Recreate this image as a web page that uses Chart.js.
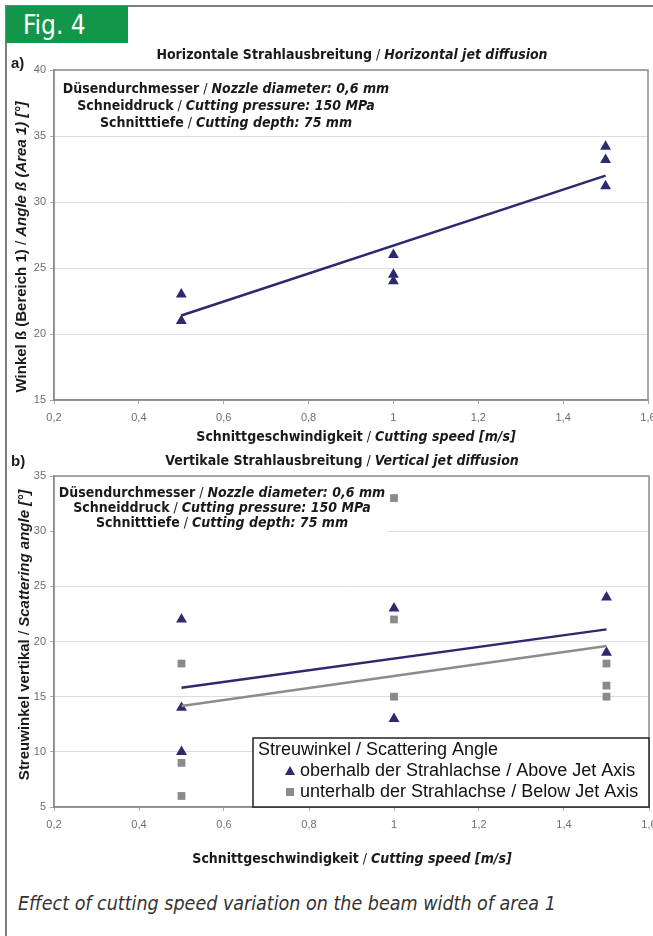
<!DOCTYPE html>
<html>
<head>
<meta charset="utf-8">
<script src="https://cdn.jsdelivr.net/npm/chart.js@4.4.1/dist/chart.umd.min.js"></script>
<style>
  body { margin: 0; background: #fff; overflow: hidden; width: 653px; height: 936px; position: relative; }
  #frame { position: absolute; left: 5px; top: 5px; width: 700px; height: 960px; border-left: 2px solid #7d7d7d; border-top: 2px solid #7d7d7d; }
  #fig { position: absolute; left: 6px; top: 6px; width: 105px; height: 37px; padding-left: 17px; background: #12974a; color: #fff;
         font: 26px "Liberation Sans Narrow", "DejaVu Sans Condensed", sans-serif; line-height: 38px; }
  canvas { position: absolute; left: 0; }
  #caption { position: absolute; left: 18px; top: 892px; color: #333; font: italic 19.5px "Liberation Sans Narrow", "DejaVu Sans Condensed", sans-serif; }
</style>
</head>
<body>
<div id="frame"></div>
<div id="fig">Fig. 4</div>
<canvas id="chartA" width="690" height="445" style="top:0"></canvas>
<canvas id="chartB" width="690" height="440" style="top:445px"></canvas>
<div id="caption">Effect of cutting speed variation on the beam width of area 1</div>
<script>
// ---- data ----
// a) horizontal jet diffusion
var speedA = [0.5, 0.5, 1, 1, 1, 1.5, 1.5, 1.5];
var angleA = [23, 21, 26, 24.5, 24, 34.2, 33.2, 31.2];
var trendSpeedA = [0.5, 1.5];
var trendAngleA = [21.4, 32.0];

// b) vertical jet diffusion
var speedAbove = [0.5, 0.5, 0.5, 1, 1, 1.5, 1.5];
var angleAbove = [22, 14, 10, 23, 13, 24, 19];
var speedBelow = [0.5, 0.5, 0.5, 1, 1, 1, 1.5, 1.5, 1.5];
var angleBelow = [18, 9, 6, 33, 22, 15, 18, 16, 15];
var trendSpeedB = [0.5, 1.5];
var trendAbove = [15.8, 21.1];
var trendBelow = [14.15, 19.6];

var xTicks = [0.2, 0.4, 0.6, 0.8, 1, 1.2, 1.4, 1.6];

var NAVY = '#2b2a6e';
var GREY = '#8a8a8a';
var NARROW = '"Liberation Sans Narrow", "DejaVu Sans Condensed", sans-serif';
var SANS = '"Liberation Sans", Arial, sans-serif';

var noteLines = [
  [['Düsendurchmesser', 'b'], [' / ', 'r'], ['Nozzle diameter: 0,6 mm', 'bi']],
  [['Schneiddruck', 'b'], [' / ', 'r'], ['Cutting pressure: 150 MPa', 'bi']],
  [['Schnitttiefe', 'b'], [' / ', 'r'], ['Cutting depth: 75 mm', 'bi']]
];
var xTitle = [['Schnittgeschwindigkeit', 'b'], [' / ', 'r'], ['Cutting speed [m/s]', 'bi']];

function pts(xs, ys) {
  return xs.map(function (x, i) { return {x: x, y: ys[i]}; });
}

function fontFor(style, size, fam) {
  if (style === 'b') return 'bold ' + size + 'px ' + fam;
  if (style === 'bi') return 'italic bold ' + size + 'px ' + fam;
  return size + 'px ' + fam;
}

// draws a line of mixed bold / italic pieces centred on cx
function drawParts(ctx, parts, cx, cy, size, fam) {
  var total = 0;
  parts.forEach(function (p) { ctx.font = fontFor(p[1], size, fam); total += ctx.measureText(p[0]).width; });
  var x = cx - total / 2;
  ctx.textAlign = 'left';
  ctx.textBaseline = 'middle';
  parts.forEach(function (p) {
    ctx.font = fontFor(p[1], size, fam);
    ctx.fillText(p[0], x, cy);
    x += ctx.measureText(p[0]).width;
  });
}

function makeDecor(spec) {
  return {
    id: 'decor' + spec.tag,
    beforeDatasetsDraw: function (chart) {
      var ctx = chart.ctx, a = chart.chartArea;
      ctx.save();
      ctx.fillStyle = '#fff';
      ctx.fillRect(a.left + 1, a.top + 1, spec.noteW, spec.noteH);
      ctx.fillStyle = '#1a1a1a';
      noteLines.forEach(function (parts, i) {
        drawParts(ctx, parts, spec.noteX, a.top + spec.noteY + i * spec.noteDy, 14, NARROW);
      });
      ctx.restore();
    },
    afterDraw: function (chart) {
      var ctx = chart.ctx, a = chart.chartArea;
      ctx.save();
      // plot frame
      ctx.strokeStyle = '#8c8c8c';
      ctx.lineWidth = 1.5;
      ctx.strokeRect(a.left, a.top, a.right - a.left, a.bottom - a.top);
      ctx.fillStyle = '#1a1a1a';
      drawParts(ctx, spec.title, spec.titleX, spec.titleY, 14, NARROW);
      drawParts(ctx, xTitle, spec.xTitleX, a.bottom + spec.xTitleDy, 14, NARROW);
      ctx.font = 'bold 15px ' + SANS;
      ctx.textAlign = 'left';
      ctx.fillText(spec.tag + ')', 11, spec.tagY);
      ctx.translate(spec.yTitleX, spec.yTitleY);
      ctx.rotate(-Math.PI / 2);
      drawParts(ctx, spec.yTitle, 0, 0, 15, SANS);
      ctx.restore();
      if (spec.after) spec.after(chart);
    }
  };
}

function scaleOpts(min, max) {
  var tickFont = {family: SANS, size: 11};
  return {
    x: {
      type: 'linear', min: 0.2, max: 1.6,
      afterBuildTicks: function (s) { s.ticks = xTicks.map(function (v) { return {value: v}; }); },
      afterFit: function (s) { s.height = 26; },
      grid: {drawOnChartArea: false, tickLength: 4, tickColor: '#aaa'},
      border: {color: '#8c8c8c', width: 1.5},
      ticks: {
        autoSkip: false, maxRotation: 0, padding: 7, color: '#6e6e6e', font: tickFont,
        callback: function (v) { return String(Number(v.toFixed(1))).replace('.', ','); }
      }
    },
    y: {
      min: min, max: max,
      afterFit: function (s) { s.width = 30; },
      grid: {color: '#dcdcdc', lineWidth: 1, tickLength: 4, tickColor: '#aaa'},
      border: {color: '#8c8c8c', width: 1.5},
      ticks: {stepSize: 5, padding: 4, color: '#6e6e6e', font: tickFont}
    }
  };
}

function triangle(color) {
  return {pointStyle: 'triangle', pointRadius: 6.3, pointHoverRadius: 6.3, backgroundColor: color, borderColor: color, borderWidth: 0, showLine: false};
}

// ---- chart a ----
new Chart(document.getElementById('chartA'), {
  type: 'scatter',
  data: {
    datasets: [
      Object.assign({label: 'Angle', data: pts(speedA, angleA)}, triangle(NAVY)),
      {label: 'Trend', data: pts(trendSpeedA, trendAngleA), showLine: true, pointRadius: 0, borderColor: NAVY, borderWidth: 2.5}
    ]
  },
  options: {
    responsive: false, animation: false, devicePixelRatio: 1,
    layout: {padding: {left: 24, right: 42, top: 70, bottom: 19}},
    plugins: {legend: {display: false}, tooltip: {enabled: false}},
    scales: scaleOpts(15, 40)
  },
  plugins: [makeDecor({
    tag: 'a', tagY: 64,
    title: [['Horizontale Strahlausbreitung', 'b'], [' / ', 'r'], ['Horizontal jet diffusion', 'bi']],
    titleX: 352, titleY: 55,
    yTitle: [['Winkel ß (Bereich 1)', 'b'], [' / ', 'r'], ['Angle ß (Area 1) [°]', 'bi']],
    yTitleX: 22, yTitleY: 247,
    xTitleDy: 37, xTitleX: 356,
    noteW: 333, noteH: 60, noteX: 226, noteY: 19, noteDy: 17
  })]
});

// ---- chart b ----
function drawLegendB(chart) {
  var ctx = chart.ctx;
  var L = 253, T = 293, W = 396, H = 69;
  ctx.save();
  ctx.fillStyle = '#fff';
  ctx.fillRect(L, T, W, H);
  ctx.strokeStyle = '#222';
  ctx.lineWidth = 1.5;
  ctx.strokeRect(L, T, W, H);
  ctx.fillStyle = '#111';
  ctx.font = '18px ' + SANS;
  ctx.textBaseline = 'middle';
  ctx.textAlign = 'left';
  ctx.fillText('Streuwinkel / Scattering Angle', L + 5, T + 12);
  ctx.fillText('oberhalb der Strahlachse / Above Jet Axis', L + 47, T + 33);
  ctx.fillText('unterhalb der Strahlachse / Below Jet Axis', L + 47, T + 54);
  ctx.fillStyle = NAVY;
  ctx.beginPath();
  ctx.moveTo(L + 37, T + 28); ctx.lineTo(L + 42, T + 37); ctx.lineTo(L + 32, T + 37); ctx.closePath();
  ctx.fill();
  ctx.fillStyle = GREY;
  ctx.fillRect(L + 33, T + 50, 8, 8);
  ctx.restore();
}

new Chart(document.getElementById('chartB'), {
  type: 'scatter',
  data: {
    datasets: [
      {label: 'Trend below', data: pts(trendSpeedB, trendBelow), showLine: true, pointRadius: 0, borderColor: '#8c8c8c', borderWidth: 2.5},
      {label: 'Trend above', data: pts(trendSpeedB, trendAbove), showLine: true, pointRadius: 0, borderColor: NAVY, borderWidth: 2.5},
      {label: 'Below Jet Axis', data: pts(speedBelow, angleBelow), pointStyle: 'rect', pointRadius: 5.5, backgroundColor: GREY, borderColor: GREY, borderWidth: 0, showLine: false},
      Object.assign({label: 'Above Jet Axis', data: pts(speedAbove, angleAbove)}, triangle(NAVY))
    ]
  },
  options: {
    responsive: false, animation: false, devicePixelRatio: 1,
    layout: {padding: {left: 24, right: 41, top: 31, bottom: 52}},
    plugins: {legend: {display: false}, tooltip: {enabled: false}},
    scales: scaleOpts(5, 35)
  },
  plugins: [makeDecor({
    tag: 'b', tagY: 17,
    title: [['Vertikale Strahlausbreitung', 'b'], [' / ', 'r'], ['Vertical jet diffusion', 'bi']],
    titleX: 342, titleY: 16,
    yTitle: [['Streuwinkel vertikal', 'b'], [' / ', 'r'], ['Scattering angle [°]', 'bi']],
    yTitleX: 25, yTitleY: 190,
    xTitleDy: 52, xTitleX: 352,
    noteW: 333, noteH: 58, noteX: 222, noteY: 17, noteDy: 15,
    after: drawLegendB
  })]
});
</script>
</body>
</html>
